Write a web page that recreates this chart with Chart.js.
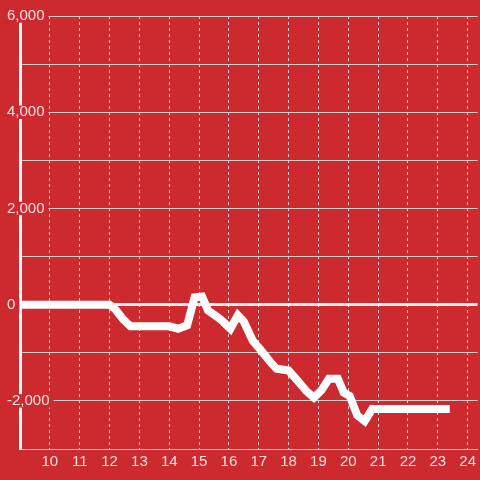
<!DOCTYPE html>
<html>
<head>
<meta charset="utf-8">
<script src="https://cdn.jsdelivr.net/npm/chart.js@4/dist/chart.umd.min.js"></script>
<style>
  html, body { margin: 0; padding: 0; background: #cc2a2f; }
  #wrap { width: 480px; height: 480px; }
</style>
</head>
<body>
<div id="wrap"><canvas id="lineChart"></canvas></div>
<script>
// time of day (hours) and value
var hours = [9, 12.0, 12.2, 12.45, 12.7, 14.0, 14.3, 14.6, 14.85, 15.1, 15.3, 15.6, 15.8, 16.05,
             16.3, 16.5, 16.8, 17.05, 17.4, 17.6, 18.0, 18.3, 18.6, 18.85, 19.1, 19.35, 19.65,
             19.85, 20.05, 20.3, 20.55, 20.8, 23.4];
var values = [0, 0, -100, -300, -450, -450, -500, -430, 150, 170, -120, -250, -350, -500,
              -220, -350, -750, -930, -1200, -1330, -1370, -1580, -1800, -1930, -1780, -1540, -1540,
              -1830, -1900, -2300, -2420, -2170, -2170];
var xTicks = [10, 11, 12, 13, 14, 15, 16, 17, 18, 19, 20, 21, 22, 23, 24];
var yLabeled = [6000, 4000, 2000, 0, -2000];

var bg = '#cc2a2f';

var points = hours.map(function(h, i) { return { x: h, y: values[i] }; });

var ctx = document.getElementById('lineChart').getContext('2d');
new Chart(ctx, {
    type: 'line',
    data: {
        datasets: [{
            data: points,
            borderColor: '#ffffff',
            borderWidth: 8,
            pointRadius: 0,
            fill: false,
            tension: 0
        }]
    },
    options: {
        responsive: true,
        maintainAspectRatio: false,
        animation: false,
        layout: { padding: { top: 16, left: 0, right: 0, bottom: 5 } },
        plugins: { legend: { display: false }, tooltip: { enabled: false } },
        scales: {
            x: {
                type: 'linear',
                min: 9,
                max: 24.333,
                afterBuildTicks: function(scale) {
                    scale.ticks = xTicks.map(function(v) { return { value: v }; });
                },
                grid: {
                    color: 'rgba(255,255,255,0.75)',
                    lineWidth: 1,
                    drawTicks: false
                },
                border: { display: true, color: '#cfcfcf', width: 1, dash: [3, 3] },
                ticks: {
                    color: 'rgba(255,255,255,0.85)',
                    font: { family: 'Arial, "Liberation Sans", sans-serif', size: 15 },
                    padding: 4,
                    maxRotation: 0,
                    autoSkip: false
                }
            },
            y: {
                min: -3000,
                max: 6000,
                afterFit: function(scale) { scale.width = 20; },
                grid: {
                    color: function(c) { return c.tick && c.tick.value === 0 ? '#eeeeee' : '#cfcfcf'; },
                    lineWidth: function(c) { return c.tick && c.tick.value === 0 ? 3 : 1; },
                    drawTicks: false
                },
                border: { display: true, color: '#ffffff', width: 3 },
                ticks: {
                    stepSize: 1000,
                    mirror: true,
                    padding: -13,
                    color: 'rgba(255,255,255,0.85)',
                    font: { family: 'Arial, "Liberation Sans", sans-serif', size: 15, lineHeight: 0.9 },
                    showLabelBackdrop: true,
                    backdropColor: bg,
                    backdropPadding: { left: 2, right: 4, top: 0, bottom: 0 },
                    callback: function(v) {
                        return yLabeled.indexOf(v) >= 0 ? v.toLocaleString('en-US') : '';
                    }
                }
            }
        }
    }
});
</script>
</body>
</html>
